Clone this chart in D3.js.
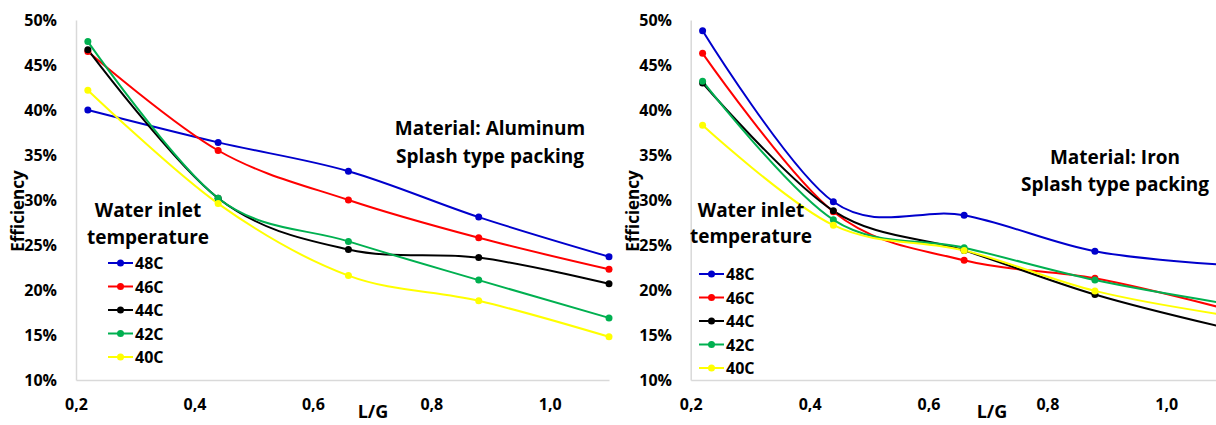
<!DOCTYPE html>
<html>
<head>
<meta charset="utf-8">
<script src="https://cdn.jsdelivr.net/npm/d3@7"></script>
<style>
  html, body { margin: 0; padding: 0; background: #fff; }
  svg { display: block; }
  text { font-family: "Open Sans", "Noto Sans", sans-serif; font-weight: 700; fill: #000; }
</style>
</head>
<body>
<svg id="chart" width="1216" height="425"></svg>
<script>
// L/G ratio values shared by both panels
const lgValues = [0.22, 0.44, 0.66, 0.88, 1.1];
const xTicks = [0.2, 0.4, 0.6, 0.8, 1.0];
const yTicks = [0.10, 0.15, 0.20, 0.25, 0.30, 0.35, 0.40, 0.45, 0.50];

const seriesNames = ["48C", "46C", "44C", "42C", "40C"];
const seriesColors = ["#0000CC", "#FF0000", "#000000", "#00B050", "#FFFF00"];

// Efficiency, aluminium packing
const alu48 = [0.400, 0.364, 0.332, 0.281, 0.237];
const alu46 = [0.465, 0.355, 0.300, 0.258, 0.223];
const alu44 = [0.467, 0.302, 0.245, 0.236, 0.207];
const alu42 = [0.476, 0.302, 0.254, 0.211, 0.169];
const alu40 = [0.422, 0.296, 0.216, 0.188, 0.148];

// Efficiency, iron packing
const iron48 = [0.488, 0.298, 0.283, 0.243, 0.228];
const iron46 = [0.463, 0.287, 0.233, 0.213, 0.179];
const iron44 = [0.430, 0.288, 0.244, 0.195, 0.158];
const iron42 = [0.432, 0.278, 0.247, 0.211, 0.185];
const iron40 = [0.383, 0.272, 0.244, 0.199, 0.172];

const panels = [
  {
    series: [alu48, alu46, alu44, alu42, alu40],
    titles: ["Material: Aluminum", "Splash type packing"],
    xRange: [76, 609],
    yLabelX: 17,
    tickEnd: 57,
    title: { x: 490, y: [128, 156] },
    legendTitle: { x: 148, y: [210, 237] },
    legend: { x: 108, y0: 263 },
    lgLabel: 373
  },
  {
    series: [iron48, iron46, iron44, iron42, iron40],
    titles: ["Material: Iron", "Splash type packing"],
    xRange: [690.7, 1225.7],
    yLabelX: 632,
    tickEnd: 672,
    title: { x: 1115, y: [157, 184] },
    legendTitle: { x: 751, y: [210, 236] },
    legend: { x: 699, y0: 274 },
    lgLabel: 992
  }
];

const svg = d3.select("#chart");
const fmtX = v => d3.format(".1f")(v).replace(".", ",");
const fmtY = d3.format(".0%");

panels.forEach(p => {
  const g = svg.append("g");
  const x = d3.scaleLinear().domain([0.2, 1.1]).range(p.xRange);
  const y = d3.scaleLinear().domain([0.10, 0.50]).range([380, 20]);

  // axis lines
  const xAxis = d3.axisBottom(x).tickValues(xTicks).tickFormat(fmtX).tickSize(0).tickPadding(19);
  const gx = g.append("g").attr("transform", "translate(0,380)").call(xAxis);
  gx.select(".domain").attr("stroke", "#D9D9D9").attr("stroke-width", 1.5);
  gx.selectAll("text").attr("font-size", 16).attr("font-family", null).attr("font-weight", null);

  const yAxis = d3.axisLeft(y).tickValues(yTicks).tickFormat(fmtY).tickSize(0).tickPadding(p.xRange[0] - p.tickEnd);
  const gy = g.append("g").attr("transform", `translate(${p.xRange[0]},0)`).call(yAxis);
  gy.select(".domain").attr("stroke", "#D9D9D9").attr("stroke-width", 1.5);
  gy.selectAll("text").attr("font-size", 16).attr("font-family", null).attr("font-weight", null);

  // axis titles
  g.append("text")
    .attr("transform", `translate(${p.yLabelX},211) rotate(-90)`)
    .attr("text-anchor", "middle").attr("dominant-baseline", "central")
    .attr("font-size", 17).text("Efficiency");
  g.append("text")
    .attr("x", p.lgLabel).attr("y", 411)
    .attr("text-anchor", "middle").attr("dominant-baseline", "central")
    .attr("font-size", 18).text("L/G");

  // series lines and markers
  const line = d3.line()
    .x((d, i) => x(lgValues[i]))
    .y(d => y(d))
    .curve(d3.curveCardinal.tension(0));

  p.series.forEach((vals, si) => {
    g.append("path")
      .attr("d", line(vals))
      .attr("fill", "none")
      .attr("stroke", seriesColors[si])
      .attr("stroke-width", 2);
  });
  p.series.forEach((vals, si) => {
    g.selectAll(null).data(vals).join("circle")
      .attr("cx", (d, i) => x(lgValues[i]))
      .attr("cy", d => y(d))
      .attr("r", 3.5)
      .attr("fill", seriesColors[si]);
  });

  // panel annotation
  p.titles.forEach((t, i) => {
    g.append("text")
      .attr("x", p.title.x).attr("y", p.title.y[i])
      .attr("text-anchor", "middle").attr("dominant-baseline", "central")
      .attr("font-size", 19).text(t);
  });

  // legend
  ["Water inlet", "temperature"].forEach((t, i) => {
    g.append("text")
      .attr("x", p.legendTitle.x).attr("y", p.legendTitle.y[i])
      .attr("text-anchor", "middle").attr("dominant-baseline", "central")
      .attr("font-size", 19).text(t);
  });
  seriesNames.forEach((name, si) => {
    const ly = p.legend.y0 + si * 23.5;
    g.append("line")
      .attr("x1", p.legend.x).attr("x2", p.legend.x + 25)
      .attr("y1", ly).attr("y2", ly)
      .attr("stroke", seriesColors[si]).attr("stroke-width", 2);
    g.append("circle")
      .attr("cx", p.legend.x + 12.5).attr("cy", ly).attr("r", 3.5)
      .attr("fill", seriesColors[si]);
    g.append("text")
      .attr("x", p.legend.x + 27).attr("y", ly)
      .attr("dominant-baseline", "central")
      .attr("font-size", 16).text(name);
  });
});
</script>
</body>
</html>
